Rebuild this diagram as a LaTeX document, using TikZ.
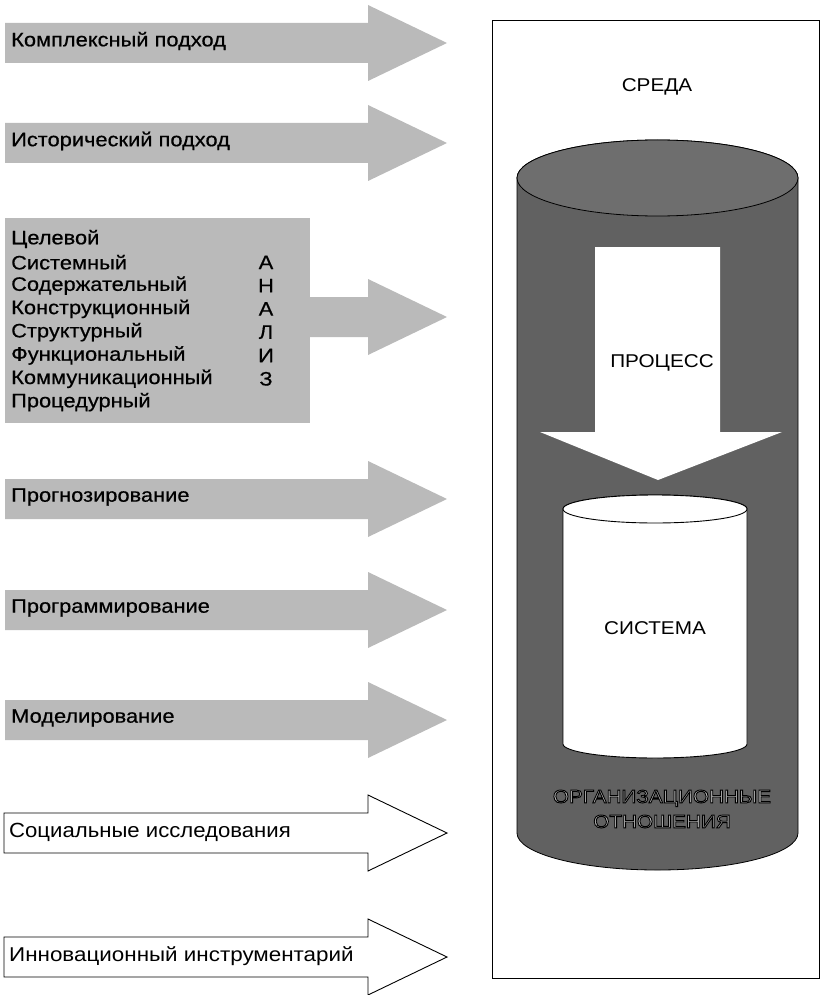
\documentclass[tikz,border=0pt]{standalone}
\usepackage{fontspec}
\setmainfont{Liberation Sans}
\newfontfamily\widefont[FakeStretch=1.12]{Liberation Sans}
\newfontfamily\grayfont[FakeStretch=1.12,FakeBold=0.5]{Liberation Sans}
\newfontfamily\socialfont[FakeStretch=1.08]{Liberation Sans}
\newcommand\outlinetext[1]{\special{pdf:code q 0 G 0.9 w 2 Tr}#1\special{pdf:code 0 Tr Q}}
\newcommand\rarrowpath[3]{%
  \path[#1] (#2,#3-20) -- (368,#3-20) -- (368,#3-38) -- (447,#3) -- (368,#3+38) -- (368,#3+20) -- (#2,#3+20) -- cycle;}
\begin{document}
\begin{tikzpicture}[x=1pt,y=-1pt,
  garrow/.style={fill=black!27},
  warrow/.style={draw=black, line width=0.9pt, fill=white},
  lbl/.style={anchor=west, inner sep=0pt, font=\grayfont\fontsize{19.5}{22}\selectfont},
  wlbl/.style={anchor=west, inner sep=0pt, font=\widefont\fontsize{20}{23}\selectfont},
  rlbl/.style={inner sep=0pt, font=\widefont\fontsize{18.5}{25}\selectfont},
  cyl/.style={fill=black!62, draw=black, line width=0.8pt},
  cyltop/.style={fill=black!57, draw=black, line width=0.8pt},
  syscyl/.style={fill=white, draw=black, line width=0.9pt},
  frame/.style={draw=black, line width=0.6pt}]
\useasboundingbox (0,0) rectangle (821,995);

% ---------- left arrows ----------
\rarrowpath{garrow}{5}{43}
\node[lbl] (t1) at (11,41) {Комплексный подход};
\rarrowpath{garrow}{5}{143}
\node[lbl] (t2) at (11,141) {Исторический подход};

\fill[garrow] (5,218) rectangle (310,423);
\rarrowpath{garrow}{305}{317}
\foreach \txt [count=\i from 0] in {Целевой,Системный,Содержательный,Конструкционный,Структурный,Функциональный,Коммуникационный,Процедурный}
  \node[lbl] (l\i) at (11,239+23.3*\i) {\txt};
\foreach \ch [count=\i] in {А,Н,А,Л,И,З}
  \node[lbl, anchor=center] (a\i) at (266,239+23.3*\i) {\ch};

\rarrowpath{garrow}{5}{499}
\node[lbl] (t3) at (11,497) {Прогнозирование};
\rarrowpath{garrow}{5}{610}
\node[lbl] (t4) at (11,608) {Программирование};
\rarrowpath{garrow}{5}{720}
\node[lbl] (t5) at (11,718) {Моделирование};

\rarrowpath{warrow}{4}{833}
\node[wlbl, font=\socialfont\fontsize{20.5}{23}\selectfont] (t6) at (9,832) {Социальные исследования};
\rarrowpath{warrow}{4}{957}
\node[wlbl] (t7) at (9,956) {Инновационный инструментарий};

% ---------- right part ----------
\draw[frame] (492,20) rectangle (819,978);
\node[rlbl] (sreda) at (657,87) {СРЕДА};

\path[cyl] (517,178) -- (517,833) arc[start angle=180, end angle=0, x radius=140.5, y radius=37]
  -- (798,178) arc[start angle=0, end angle=-180, x radius=140.5, y radius=38] -- cycle;
\path[cyltop] (657.5,178) ellipse[x radius=140.5, y radius=38];

\fill[white] (595,247) -- (720,247) -- (720,432) -- (782,432) -- (658,480) -- (540,432) -- (595,432) -- cycle;
\node[rlbl] (process) at (662,363) {ПРОЦЕСС};

\path[syscyl] (563,509) -- (563,744) arc[start angle=180, end angle=0, x radius=92, y radius=14]
  -- (747,509) arc[start angle=0, end angle=-180, x radius=92, y radius=14] -- cycle;
\draw[syscyl] (655,509) ellipse[x radius=92, y radius=14];
\node[rlbl] (sistema) at (655,628) {СИСТЕМА};

\node[rlbl, align=center, text=black!28] (org) at (662,809)
  {\outlinetext{ОРГАНИЗАЦИОННЫЕ}\\\outlinetext{ОТНОШЕНИЯ}};
\end{tikzpicture}
\end{document}
